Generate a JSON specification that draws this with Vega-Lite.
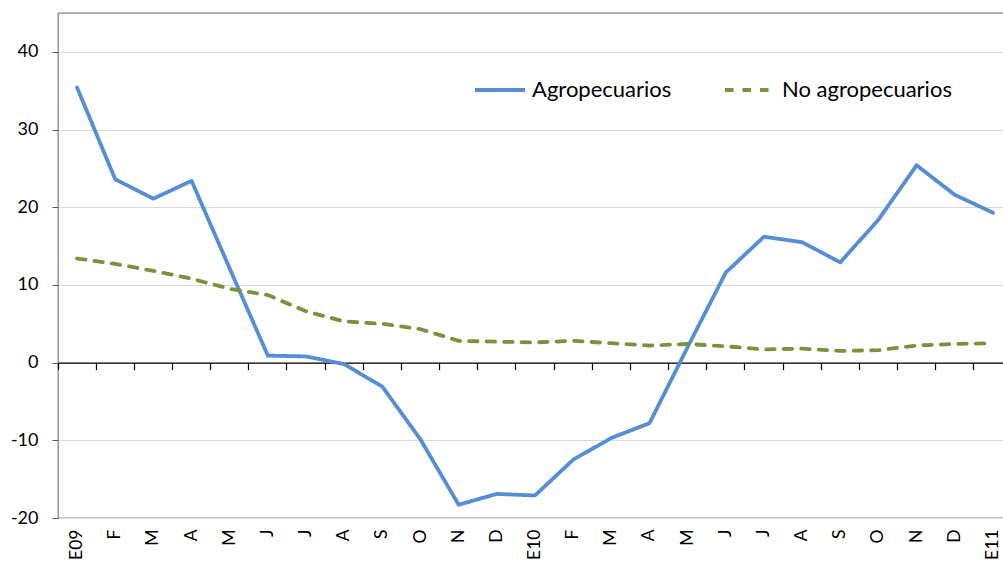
{
  "$schema": "https://vega.github.io/schema/vega-lite/v6.json",
  "width": 946,
  "height": 505,
  "autosize": {"type": "none"},
  "padding": {"left": 58, "top": 13, "right": 0, "bottom": 47},
  "background": "white",
  "config": {"view": {"stroke": "#868686", "strokeWidth": 1.3}, "font": "Lato"},
  "data": {"values": [
    {"i": 0, "mes": "E09", "serie": "Agropecuarios", "v": 35.4},
    {"i": 1, "mes": "F", "serie": "Agropecuarios", "v": 23.6},
    {"i": 2, "mes": "M", "serie": "Agropecuarios", "v": 21.1},
    {"i": 3, "mes": "A", "serie": "Agropecuarios", "v": 23.4},
    {"i": 4, "mes": "M", "serie": "Agropecuarios", "v": 12.1},
    {"i": 5, "mes": "J", "serie": "Agropecuarios", "v": 0.9},
    {"i": 6, "mes": "J", "serie": "Agropecuarios", "v": 0.8},
    {"i": 7, "mes": "A", "serie": "Agropecuarios", "v": -0.2},
    {"i": 8, "mes": "S", "serie": "Agropecuarios", "v": -3.1},
    {"i": 9, "mes": "O", "serie": "Agropecuarios", "v": -9.9},
    {"i": 10, "mes": "N", "serie": "Agropecuarios", "v": -18.3},
    {"i": 11, "mes": "D", "serie": "Agropecuarios", "v": -16.9},
    {"i": 12, "mes": "E10", "serie": "Agropecuarios", "v": -17.1},
    {"i": 13, "mes": "F", "serie": "Agropecuarios", "v": -12.5},
    {"i": 14, "mes": "M", "serie": "Agropecuarios", "v": -9.7},
    {"i": 15, "mes": "A", "serie": "Agropecuarios", "v": -7.8},
    {"i": 16, "mes": "M", "serie": "Agropecuarios", "v": 2.0},
    {"i": 17, "mes": "J", "serie": "Agropecuarios", "v": 11.6},
    {"i": 18, "mes": "J", "serie": "Agropecuarios", "v": 16.2},
    {"i": 19, "mes": "A", "serie": "Agropecuarios", "v": 15.5},
    {"i": 20, "mes": "S", "serie": "Agropecuarios", "v": 12.9},
    {"i": 21, "mes": "O", "serie": "Agropecuarios", "v": 18.4},
    {"i": 22, "mes": "N", "serie": "Agropecuarios", "v": 25.4},
    {"i": 23, "mes": "D", "serie": "Agropecuarios", "v": 21.6},
    {"i": 24, "mes": "E11", "serie": "Agropecuarios", "v": 19.3},
    {"i": 0, "mes": "E09", "serie": "No agropecuarios", "v": 13.4},
    {"i": 1, "mes": "F", "serie": "No agropecuarios", "v": 12.7},
    {"i": 2, "mes": "M", "serie": "No agropecuarios", "v": 11.8},
    {"i": 3, "mes": "A", "serie": "No agropecuarios", "v": 10.8},
    {"i": 4, "mes": "M", "serie": "No agropecuarios", "v": 9.5},
    {"i": 5, "mes": "J", "serie": "No agropecuarios", "v": 8.7},
    {"i": 6, "mes": "J", "serie": "No agropecuarios", "v": 6.6},
    {"i": 7, "mes": "A", "serie": "No agropecuarios", "v": 5.3},
    {"i": 8, "mes": "S", "serie": "No agropecuarios", "v": 5.0},
    {"i": 9, "mes": "O", "serie": "No agropecuarios", "v": 4.3},
    {"i": 10, "mes": "N", "serie": "No agropecuarios", "v": 2.8},
    {"i": 11, "mes": "D", "serie": "No agropecuarios", "v": 2.7},
    {"i": 12, "mes": "E10", "serie": "No agropecuarios", "v": 2.6},
    {"i": 13, "mes": "F", "serie": "No agropecuarios", "v": 2.8},
    {"i": 14, "mes": "M", "serie": "No agropecuarios", "v": 2.5},
    {"i": 15, "mes": "A", "serie": "No agropecuarios", "v": 2.2},
    {"i": 16, "mes": "M", "serie": "No agropecuarios", "v": 2.4},
    {"i": 17, "mes": "J", "serie": "No agropecuarios", "v": 2.1},
    {"i": 18, "mes": "J", "serie": "No agropecuarios", "v": 1.7},
    {"i": 19, "mes": "A", "serie": "No agropecuarios", "v": 1.8},
    {"i": 20, "mes": "S", "serie": "No agropecuarios", "v": 1.5},
    {"i": 21, "mes": "O", "serie": "No agropecuarios", "v": 1.6},
    {"i": 22, "mes": "N", "serie": "No agropecuarios", "v": 2.2},
    {"i": 23, "mes": "D", "serie": "No agropecuarios", "v": 2.4},
    {"i": 24, "mes": "E11", "serie": "No agropecuarios", "v": 2.5}
  ]},
  "layer": [
    {
      "mark": {"type": "line", "opacity": 0},
      "encoding": {
        "x": {"field": "i", "type": "ordinal",
          "scale": {"type": "band", "range": [0, 954], "paddingInner": 0, "paddingOuter": 0},
          "axis": {"orient": "bottom", "offset": -155.4, "bandPosition": 0, "labels": false, "title": null,
            "domain": true, "domainColor": "#000000", "domainWidth": 1.2,
            "ticks": true, "tickColor": "#000000", "tickWidth": 1.2, "tickSize": 7, "grid": false}},
        "y": {"field": "v", "type": "quantitative",
          "scale": {"domain": [-20, 45], "nice": false, "zero": false},
          "axis": {"values": [-20, -10, 0, 10, 20, 30, 40], "title": null, "domain": false,
            "grid": true, "gridColor": "#d9d9d9", "gridWidth": 1,
            "tickColor": "#595959", "tickSize": 6, "labelPadding": 14,
            "labelFontSize": 18, "labelColor": "#000000",
            "labelExpr": "datum.value < 0 ? '-' + abs(datum.value) : '' + datum.value"}},
        "detail": {"field": "serie"}
      }
    },
    {
      "mark": {"type": "line", "strokeWidth": 3.8, "strokeJoin": "round", "strokeCap": "round"},
      "encoding": {
        "x": {"field": "i", "type": "ordinal",
          "axis": {"orient": "bottom", "title": null, "domain": false, "ticks": false, "grid": false,
            "labelAngle": -90, "labelPadding": 11, "labelFontSize": 17.5, "labelColor": "#000000",
            "labelExpr": "['E09','F','M','A','M','J','J','A','S','O','N','D','E10','F','M','A','M','J','J','A','S','O','N','D','E11'][datum.value]"}},
        "y": {"field": "v", "type": "quantitative",
          "axis": {"values": [-20, -10, 0, 10, 20, 30, 40], "title": null, "domain": false,
            "grid": true, "gridColor": "#d9d9d9", "gridWidth": 1,
            "tickColor": "#595959", "tickSize": 6, "labelPadding": 14,
            "labelFontSize": 18, "labelColor": "#000000",
            "labelExpr": "datum.value < 0 ? '-' + abs(datum.value) : '' + datum.value"}},
        "color": {"field": "serie", "type": "nominal",
          "scale": {"domain": ["Agropecuarios", "No agropecuarios"], "range": ["#558ED5", "#77933C"]},
          "legend": {"orient": "none", "legendX": 415, "legendY": 50, "direction": "horizontal", "title": null,
            "labelFontSize": 22, "labelColor": "#000000", "labelLimit": 400, "symbolSize": 2500, "symbolStrokeWidth": 4,
            "columnPadding": 45, "labelOffset": 5, "symbolType": "stroke"}},
        "strokeDash": {"field": "serie", "type": "nominal",
          "scale": {"domain": ["Agropecuarios", "No agropecuarios"], "range": [[1, 0], [8.5, 9]]},
          "legend": {"orient": "none", "legendX": 415, "legendY": 50, "direction": "horizontal", "title": null,
            "labelFontSize": 22, "labelColor": "#000000", "labelLimit": 400, "symbolSize": 2500, "symbolStrokeWidth": 4,
            "columnPadding": 45, "labelOffset": 5, "symbolType": "stroke"}}
      }
    }
  ],
  "resolve": {"axis": {"x": "independent"}}
}
